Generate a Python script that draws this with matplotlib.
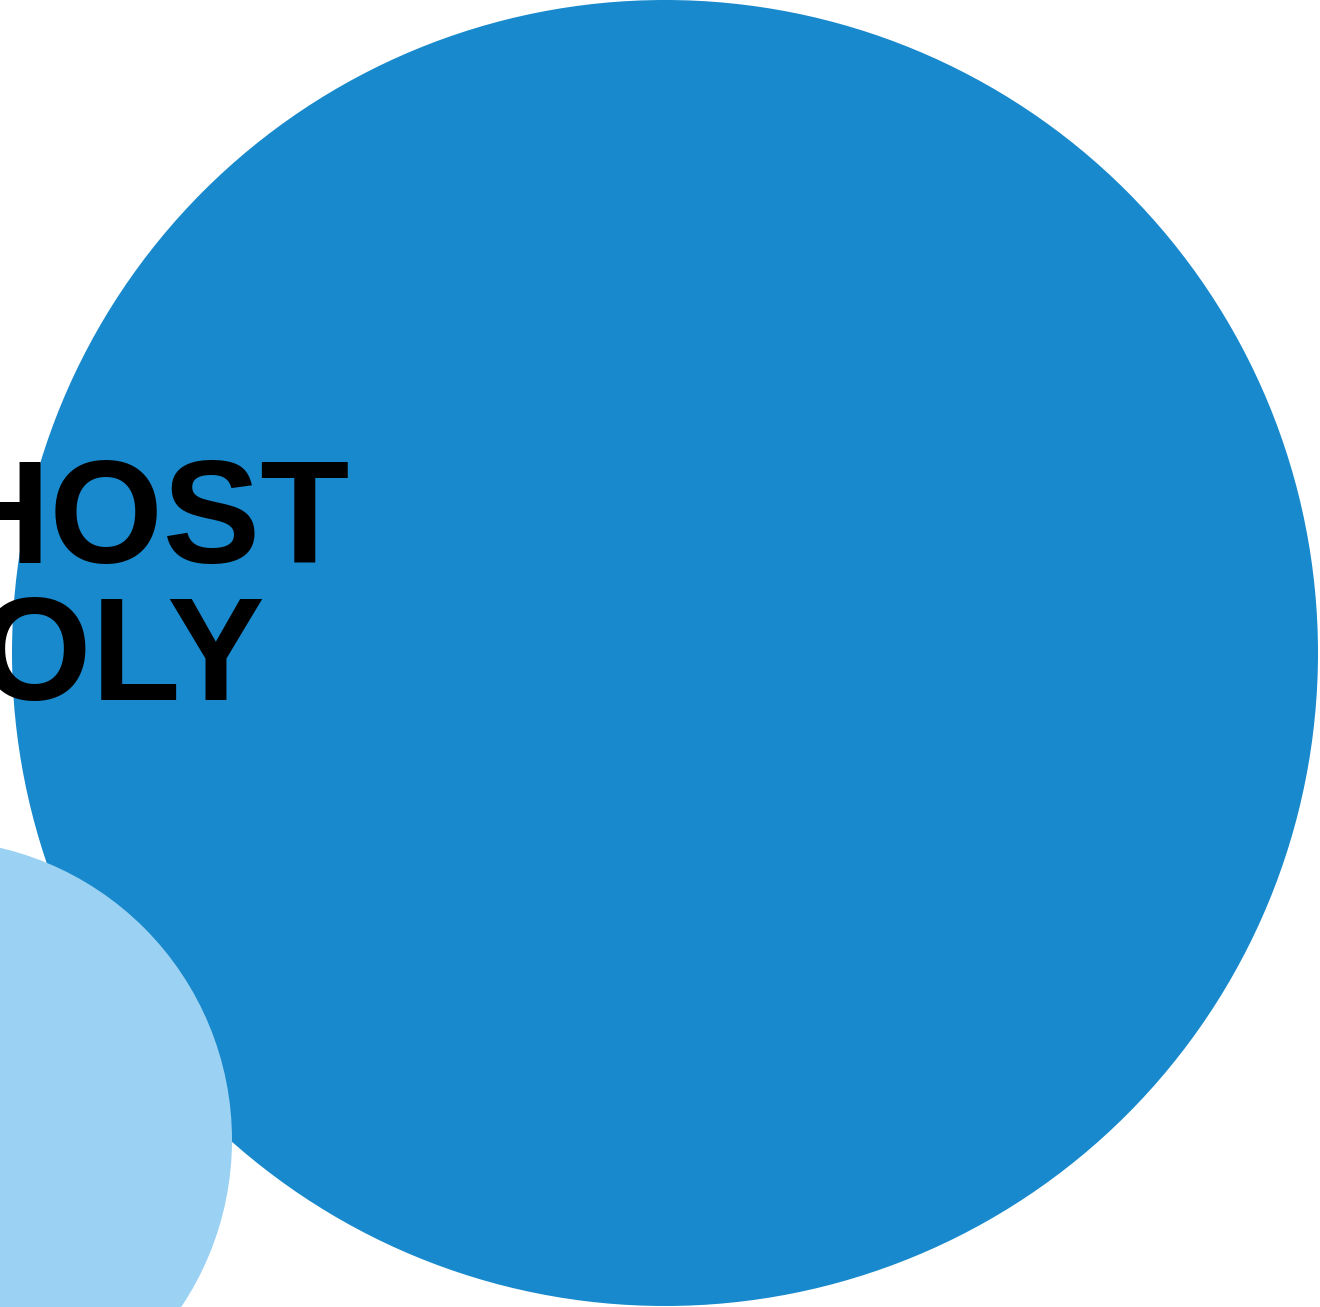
import matplotlib.pyplot as plt
from matplotlib.patches import Circle

# bubbles: centre x, centre y, radius (pixel units of the visible window)
bubble_x = [665, -68]
bubble_y = [653, 1140]
bubble_r = [653, 300]
bubble_colors = ["#1889cc", "#9bd1f2"]

labels = ["HOST", "OLY"]
label_x = [350, 264]
label_y = [563, 700]

fig = plt.figure(figsize=(13.2, 13.07), dpi=100)
ax = fig.add_axes([0, 0, 1, 1])
ax.set_xlim(0, 1320)
ax.set_ylim(1307, 0)
ax.set_aspect("equal")
ax.axis("off")

for x, y, r, c in zip(bubble_x, bubble_y, bubble_r, bubble_colors):
    ax.add_patch(Circle((x, y), r, facecolor=c, edgecolor="none"))

for t, x, y in zip(labels, label_x, label_y):
    ax.text(x, y, t, ha="right", va="baseline", fontsize=105,
            fontweight="bold", family="Liberation Sans", color="black")

plt.savefig("out.png", dpi=100)
